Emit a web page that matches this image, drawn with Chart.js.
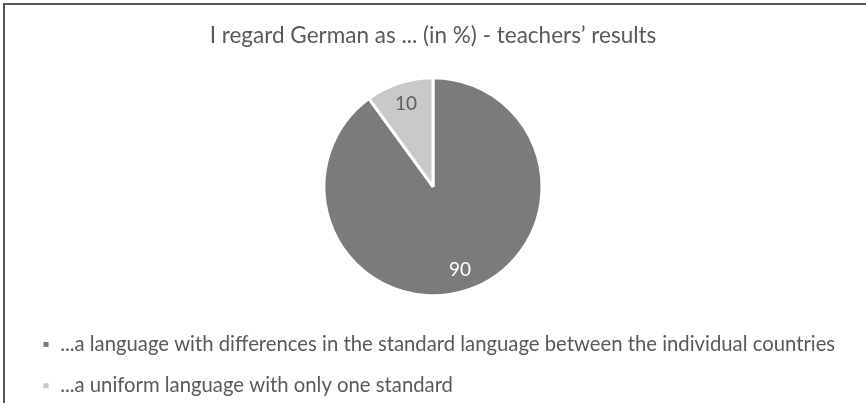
<!DOCTYPE html>
<html>
<head>
<meta charset="utf-8">
<script src="https://cdn.jsdelivr.net/npm/chart.js@4"></script>
<style>
    body{ margin:0; background:#fff; }
    .frame{ position:absolute; left:3px; top:3px; width:863px; height:400px; border-left:2px solid #555; border-top:2px solid #555; box-sizing:border-box; }
    .wrap{ position:absolute; left:0; top:0; width:866px; height:406px; }
</style>
</head>
<body>
<div class="frame"></div>
<div class="wrap"><canvas id="chart" width="866" height="406"></canvas></div>
<script>
const titleText = 'I regard German as ... (in %) - teachers’ results';
const categories = [
    '...a language with differences in the standard language between the individual countries',
    '...a uniform language with only one standard'
];
const shares = [90, 10];
const sliceColors = ['#7b7b7c', '#c8c9ca'];
const labelColors = ['#ffffff', '#5f5f5f'];

// value labels inside the slices
const sliceLabels = {
    id: 'sliceLabels',
    afterDatasetsDraw(chart){
        const ctx = chart.ctx;
        const meta = chart.getDatasetMeta(0);
        ctx.save();
        ctx.font = '19px Lato';
        ctx.textAlign = 'center';
        ctx.textBaseline = 'middle';
        meta.data.forEach((arc, i) => {
            const p = arc.getProps(['x','y','startAngle','endAngle','outerRadius'], true);
            const mid = (p.startAngle + p.endAngle) / 2;
            const r = p.outerRadius * 0.8;
            ctx.fillStyle = labelColors[i];
            ctx.fillText(String(shares[i]), p.x + Math.cos(mid) * r, p.y + Math.sin(mid) * r);
        });
        ctx.restore();
    }
};

const chart = new Chart(document.getElementById('chart').getContext('2d'), {
    type:'pie',
    data:{
        labels:categories,
        datasets:[{
            data:shares,
            backgroundColor:sliceColors,
            borderColor:'#ffffff',
            borderWidth:3,
            radius:109
        }]
    },
    options:{
        responsive:false,
        animation:false,
        layout:{ padding:{ left:21, right:21, top:0, bottom:0 } },
        plugins:{
            title:{
                display:true,
                text:titleText,
                color:'#595959',
                font:{ family:'Lato', size:22.5, weight:'normal' },
                padding:{ top:22.5, bottom:10.5 }
            },
            legend:{
                position:'bottom',
                align:'start',
                labels:{
                    boxWidth:8,
                    boxHeight:8,
                    padding:21,
                    color:'#595959',
                    font:{ family:'Lato', size:20.3 }
                }
            },
            tooltip:{ enabled:false }
        }
    },
    plugins:[sliceLabels]
});
</script>
</body>
</html>
